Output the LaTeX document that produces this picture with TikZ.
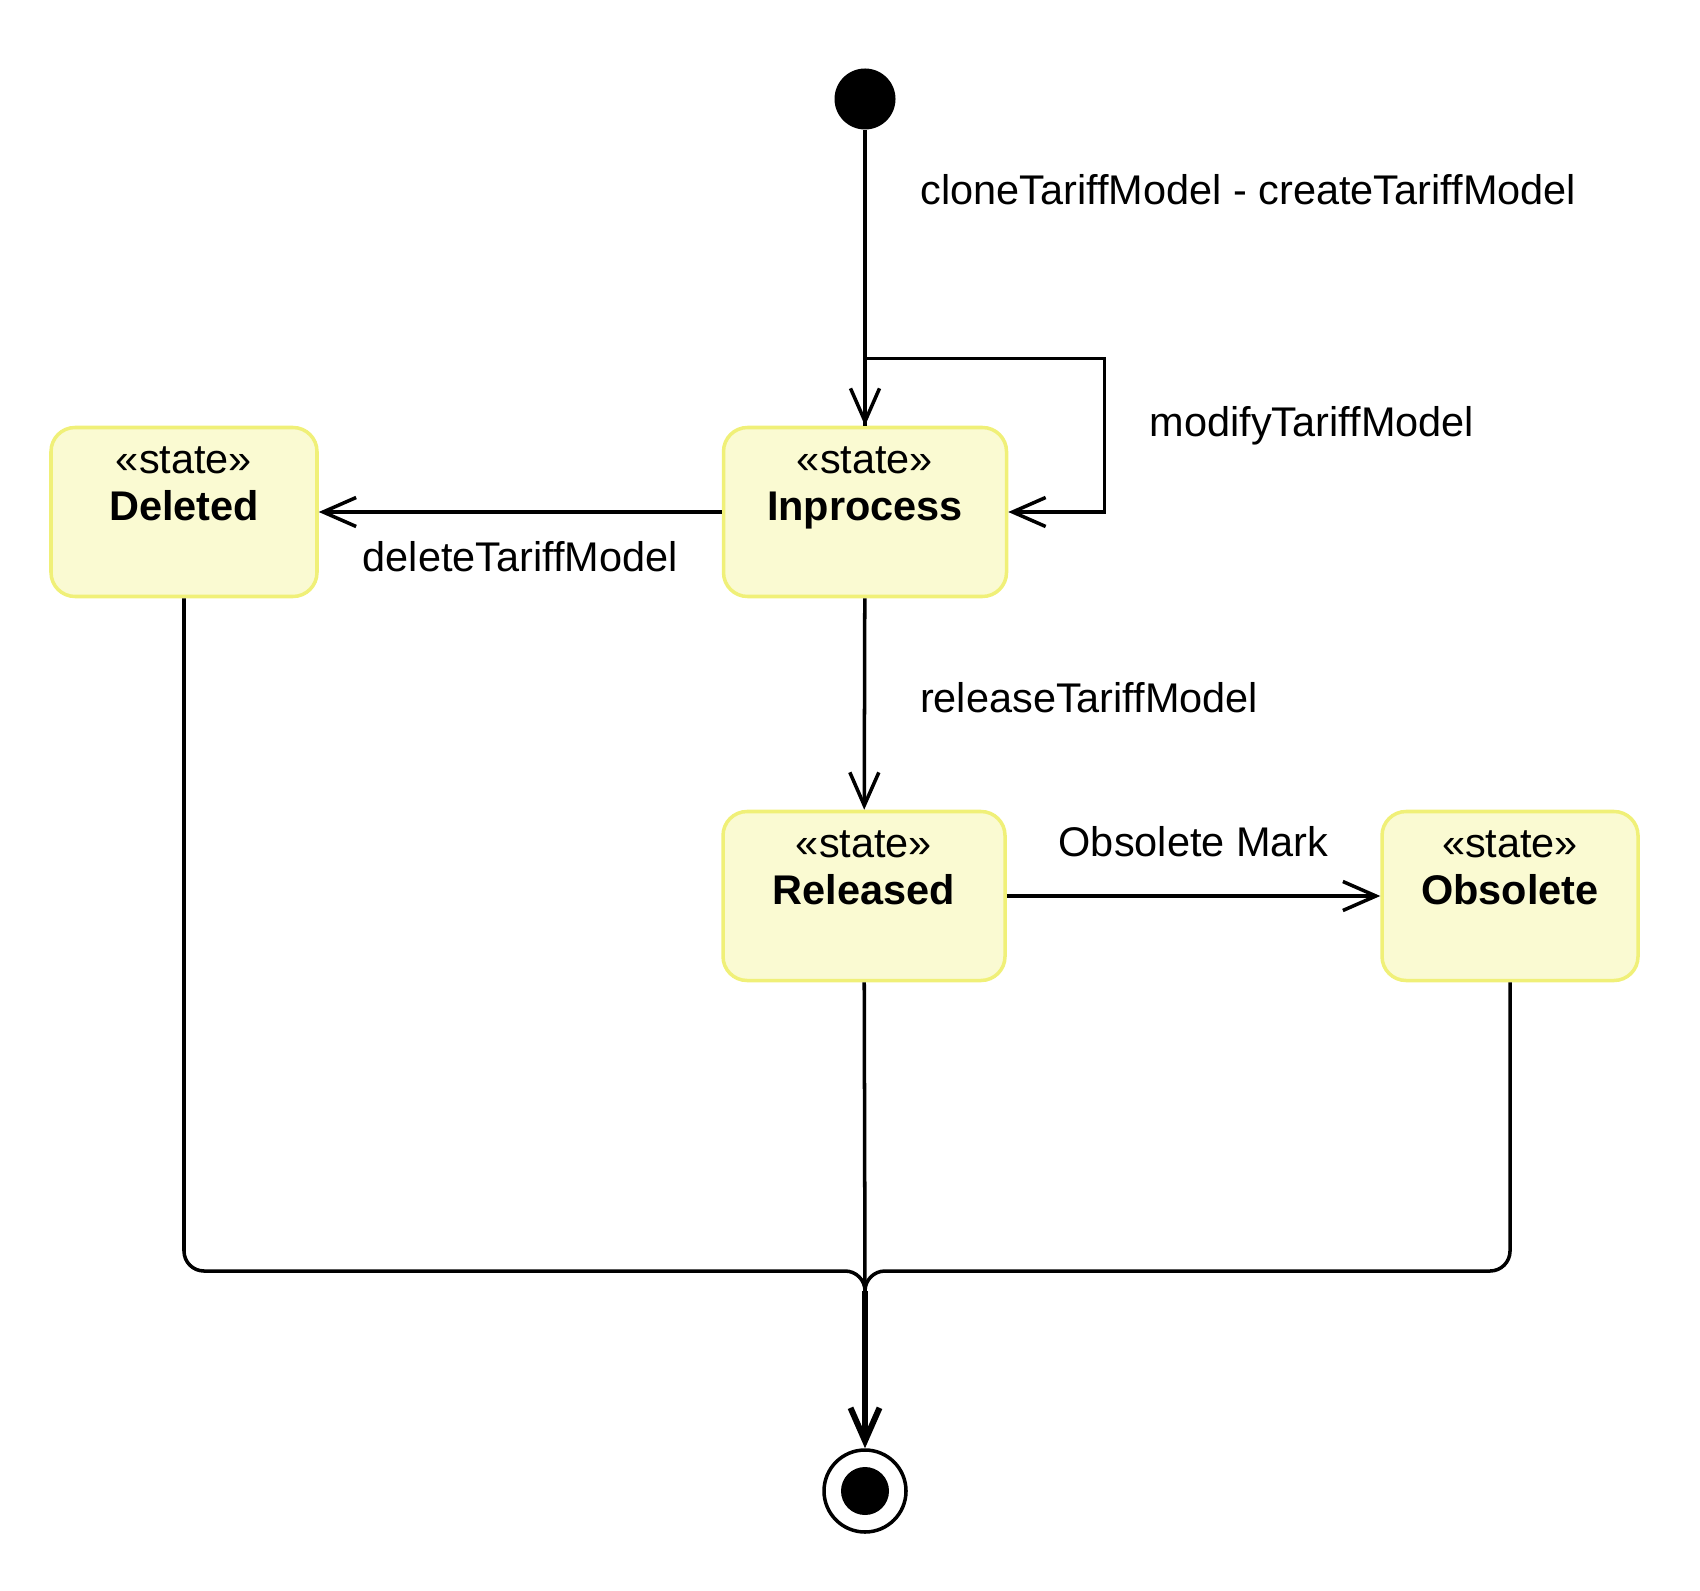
\documentclass[tikz,border=0pt]{standalone}
\usepackage{fontspec}
\setmainfont{Liberation Sans}
\usetikzlibrary{arrows.meta,positioning}
\definecolor{statefill}{RGB}{250,250,210}
\definecolor{stateline}{RGB}{240,240,120}
\tikzset{
  state/.style={draw=stateline, fill=statefill, line width=1pt, rounded corners=2.4mm,
    minimum height=16.9mm, align=center, inner sep=0pt},
  initial/.style={circle, fill, minimum size=6.1mm, inner sep=0pt},
  final/.style={circle, draw, line width=1pt, minimum size=8.2mm, inner sep=0pt,
    path picture={\fill (path picture bounding box.center) circle (2.4mm);}},
  trans/.style={-{Straight Barb[length=3.3mm,width=2.9mm]}, line width=1pt},
}
\begin{document}
\fontsize{11.8}{13.6}\selectfont
\begin{tikzpicture}[x=.1mm, y=-.1mm]
\useasboundingbox (0,0) rectangle (1700,1590);
\node [initial] (init) at (865,99) {};
\node [state, minimum width=28.3mm] (inproc) at (865,512) {«state»\\\textbf{Inprocess}\\[-1.5pt]\strut};
\node [state, minimum width=26.6mm] (deleted) at (184,512) {«state»\\\textbf{Deleted}\\[-1.5pt]\strut};
\node [state, minimum width=28.2mm] (released) at (864,896) {«state»\\\textbf{Released}\\[-1.5pt]\strut};
\node [state, minimum width=25.6mm] (obsolete) at (1510,896) {«state»\\\textbf{Obsolete}\\[-1.5pt]\strut};
\node [final] (final) at (865,1491) {};
\coordinate (bend) at (865,1271);
\coordinate (merge) at (865,1291);

\draw [trans] (init) to node [pos=.2, right=4mm] {cloneTariffModel - createTariffModel} (inproc);
\draw [trans] (inproc.north) -- ++(0,-67) -| node [pos=.72, right=3mm] {modifyTariffModel} ([xshift=9.6mm]inproc.east) -- (inproc.east);
\draw [trans] (inproc) to node [below=1.4mm] {deleteTariffModel} (deleted);
\draw [trans] (inproc) to node [pos=.47, right=4mm] {releaseTariffModel} (released);
\draw [trans] (released) to node [above=2.4mm] {Obsolete Mark} (obsolete);

% to the final state
\draw [line width=1pt, rounded corners=2mm] (deleted) |- (bend) -- (merge);
\draw [line width=1pt, rounded corners=2mm] (obsolete) |- (bend) -- (merge);
\draw [line width=1pt] (released) -- (merge);
\draw [trans, line width=1.7pt] (merge) -- (final);
\end{tikzpicture}
\end{document}
